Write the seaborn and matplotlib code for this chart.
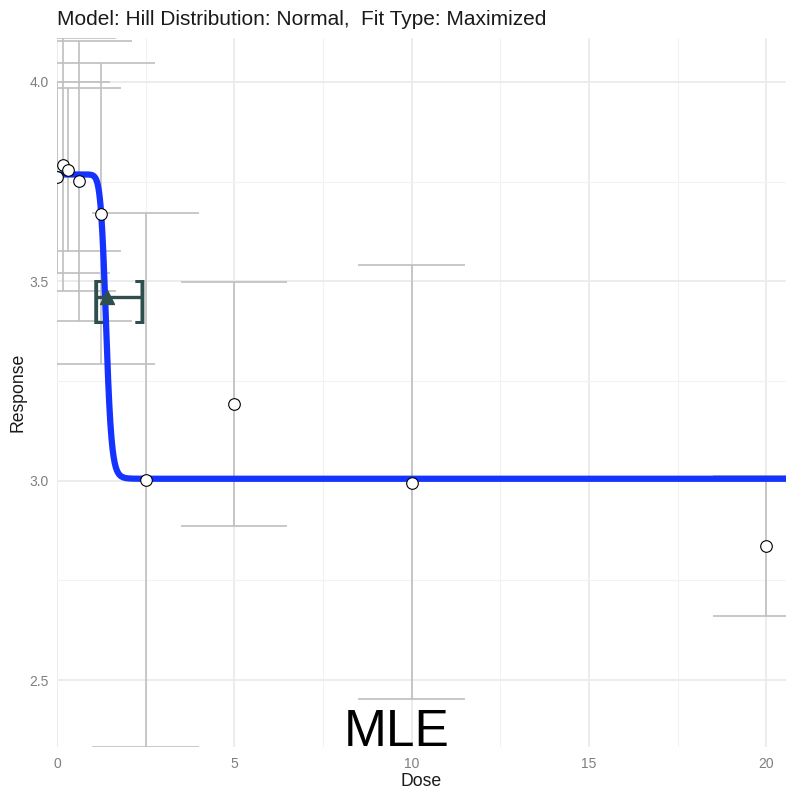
import numpy as np
import pandas as pd
import seaborn as sns
import matplotlib.pyplot as plt
from matplotlib.ticker import MultipleLocator

doses = [0, 0.156, 0.3125, 0.625, 1.25, 2.5, 5, 10, 20]
response = [3.7625, 3.7925, 3.78, 3.7525, 3.67, 3.0025, 3.1925, 2.995, 2.8375]
err_low = [3.52, 3.475, 3.575, 3.40, 3.2925, 2.3325, 2.8875, 2.4525, 2.66]
err_high = [4.00, 4.11, 3.985, 4.1025, 4.0475, 3.6725, 3.4975, 3.54, 3.0125]

# fitted Hill model (MLE) parameters
hill_top = 3.768
hill_bottom = 3.005
hill_k = 1.385
hill_n = 18

# benchmark dose and its interval
bmd = 1.41
bmdl = 1.14
bmdu = 2.36
bmd_resp = 3.46

sns.set_style("white")
plt.rcParams['font.family'] = ['Liberation Sans', 'DejaVu Sans']

df = pd.DataFrame({"Dose": doses, "Response": response})

fig = plt.figure(figsize=(7.86, 7.89), dpi=100)
ax = fig.add_axes([57 / 786, 42 / 789, 729 / 786, 709 / 789])

# grid like theme_minimal
ax.xaxis.set_major_locator(MultipleLocator(5))
ax.xaxis.set_minor_locator(MultipleLocator(2.5))
ax.yaxis.set_major_locator(MultipleLocator(0.5))
ax.yaxis.set_minor_locator(MultipleLocator(0.25))
ax.grid(which="major", color="#EBEBEB", linewidth=1.3)
ax.grid(which="minor", color="#F2F2F2", linewidth=0.8)
ax.set_axisbelow(True)

# error bars (caps are 3 dose units wide)
ax.vlines(doses, err_low, err_high, color="#BFBFBF", linewidth=1.2, zorder=2)
caps_x0 = [d - 1.5 for d in doses]
caps_x1 = [d + 1.5 for d in doses]
ax.hlines(err_low, caps_x0, caps_x1, color="#BFBFBF", linewidth=1.2, zorder=2)
ax.hlines(err_high, caps_x0, caps_x1, color="#BFBFBF", linewidth=1.2, zorder=2)

# model curve
xs = np.linspace(0.001, 20.6, 2000)
ys = hill_top + (hill_bottom - hill_top) / (1 + (hill_k / xs) ** hill_n)
sns.lineplot(x=xs, y=ys, color="#1433FF", linewidth=4.5, ax=ax, zorder=3)

# BMD marker with interval
bmd_col = "#2F4F4F"
ax.plot([bmdl, bmdu], [bmd_resp, bmd_resp], color=bmd_col, linewidth=2.4, zorder=4)
ax.text(bmdl, bmd_resp - 0.012, "[", color=bmd_col, fontsize=33, ha="center", va="center", zorder=4)
ax.text(bmdu, bmd_resp - 0.012, "]", color=bmd_col, fontsize=33, ha="center", va="center", zorder=4)
ax.scatter([bmd], [bmd_resp], marker="^", s=100, color=bmd_col, zorder=5)

# observed means
sns.scatterplot(data=df, x="Dose", y="Response", s=70, color="white",
                edgecolor="black", linewidth=0.8, ax=ax, zorder=6)

ax.set_xlim(0, 20.56)
ax.set_ylim(min(err_low), max(err_high))
for s in ax.spines.values():
    s.set_visible(False)
ax.tick_params(axis="both", which="both", length=0, labelsize=10, labelcolor="#7F7F7F")
ax.tick_params(axis="x", pad=7)
ax.tick_params(axis="y", pad=6)
ax.set_xlabel("Dose", fontsize=12.7, color="#1A1A1A", labelpad=2)
ax.set_ylabel("Response", fontsize=12.7, color="#1A1A1A", labelpad=2)

fig.text(57 / 786, 1 - 25 / 789, "Model: Hill Distribution: Normal,  Fit Type: Maximized",
         fontsize=15, color="#1A1A1A", ha="left", va="baseline")
fig.text(397 / 786, 43 / 789, "MLE", fontsize=37, color="black", ha="center", va="baseline")

fig.savefig("out.png", dpi=100)
